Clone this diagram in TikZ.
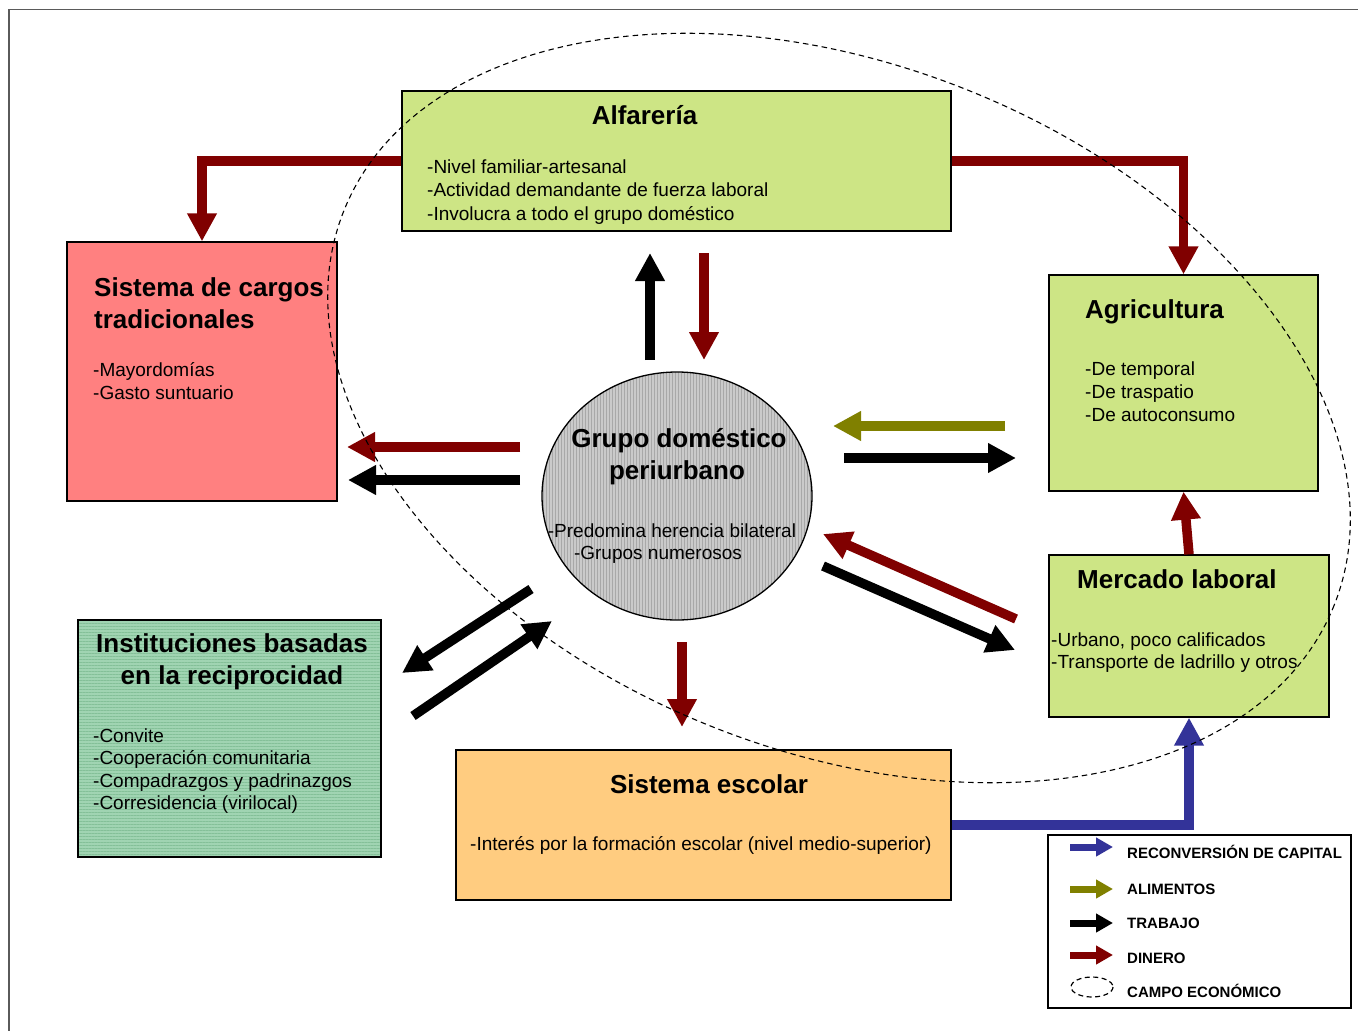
\documentclass[tikz,border=0pt]{standalone}
\usepackage{fontspec}
\setmainfont{Liberation Sans}
\usetikzlibrary{arrows.meta,patterns.meta,shapes.geometric}

\definecolor{dinero}{RGB}{128,0,0}
\definecolor{alimentos}{RGB}{128,128,0}
\definecolor{capital}{RGB}{51,51,153}
\definecolor{verde}{RGB}{205,229,133}
\definecolor{salmon}{RGB}{255,128,128}
\definecolor{naranja}{RGB}{255,204,128}
\definecolor{menta}{RGB}{160,212,178}
\definecolor{mentaraya}{RGB}{132,192,152}
\definecolor{gris}{RGB}{202,202,202}
\definecolor{grisraya}{RGB}{168,168,168}
\definecolor{marco}{RGB}{90,90,90}

\tikzset{
  caja/.style={draw=black, line width=1.3pt, rectangle, inner sep=0pt},
  titulo/.style={font=\fontsize{26}{30}\selectfont\bfseries, inner sep=0pt},
  cuerpo/.style={font=\fontsize{19}{23}\selectfont, inner sep=0pt},
  leyenda/.style={font=\fontsize{15}{18}\selectfont\bfseries, inner sep=0pt},
  flujo/.style={line width=9.5pt, line join=miter,
    -{Triangle[width=28pt,length=28pt]}},
  flujochico/.style={line width=7pt, -{Triangle[width=18pt,length=17pt]}},
  campo/.style={draw=black, dash pattern=on 5.5pt off 4pt, line width=1.1pt}
}

\begin{document}
\begin{tikzpicture}[x=1pt,y=-1pt]
\useasboundingbox (0,0) rectangle (1358,1031);

% page frame
\draw[marco, line width=1.3pt] (9,1031) -- (9,9.5) -- (1358,9.5);

% boxes
\node[caja, fill=verde, minimum width=549pt, minimum height=140pt] (alf) at (676.5,161) {};
\node[caja, fill=salmon, minimum width=270pt, minimum height=259pt] (cargos) at (202,371.5) {};
\node[caja, fill=verde, minimum width=269pt, minimum height=216pt] (agri) at (1183.5,383) {};
\node[caja, fill=verde, minimum width=280pt, minimum height=162pt] (merc) at (1189,636) {};
\node[caja, preaction={fill=menta}, minimum width=303pt, minimum height=237pt,
  pattern={Lines[angle=0,distance=3pt,line width=0.8pt]}, pattern color=mentaraya]
  (inst) at (229.5,738.5) {};
\node[caja, fill=naranja, minimum width=495pt, minimum height=150pt] (esc) at (703.5,825) {};
\node[draw=black, line width=1.3pt, ellipse, inner sep=0pt, minimum width=270pt, minimum height=248pt,
  preaction={fill=gris}, pattern={Lines[angle=90,distance=3pt,line width=0.9pt]}, pattern color=grisraya]
  (grupo) at (677,496) {};

% texts
\node[titulo, anchor=base] (alf-t) at (644.5,124) {Alfarería};
\node[cuerpo, anchor=base west] (alf-1) at (427,173) {-Nivel familiar-artesanal};
\node[cuerpo, anchor=base west] (alf-2) at (427,196.5) {-Actividad demandante de fuerza laboral};
\node[cuerpo, anchor=base west] (alf-3) at (427,220) {-Involucra a todo el grupo doméstico};

\node[titulo, anchor=base west] (cargos-t1) at (94,296) {Sistema de cargos};
\node[titulo, anchor=base west] (cargos-t2) at (94,328) {tradicionales};
\node[cuerpo, anchor=base west] (cargos-1) at (93,376) {-Mayordomías};
\node[cuerpo, anchor=base west] (cargos-2) at (93,399) {-Gasto suntuario};

\node[titulo, anchor=base west] (agri-t) at (1085,318) {Agricultura};
\node[cuerpo, anchor=base west] (agri-1) at (1085,375) {-De temporal};
\node[cuerpo, anchor=base west] (agri-2) at (1085,398) {-De traspatio};
\node[cuerpo, anchor=base west] (agri-3) at (1085,421) {-De autoconsumo};

\node[titulo, anchor=base west] (merc-t) at (1077,588) {Mercado laboral};
\node[cuerpo, anchor=base west] (merc-1) at (1051,646) {-Urbano, poco calificados};
\node[cuerpo, anchor=base west] (merc-2) at (1051,668) {-Transporte de ladrillo y otros};

\node[titulo, anchor=base] (inst-t1) at (232,652) {Instituciones basadas};
\node[titulo, anchor=base] (inst-t2) at (232,684) {en la reciprocidad};
\node[cuerpo, anchor=base west] (inst-1) at (93,742) {-Convite};
\node[cuerpo, anchor=base west] (inst-2) at (93,764.5) {-Cooperación comunitaria};
\node[cuerpo, anchor=base west] (inst-3) at (93,787) {-Compadrazgos y padrinazgos};
\node[cuerpo, anchor=base west] (inst-4) at (93,809.5) {-Corresidencia (virilocal)};

\node[titulo, anchor=base] (esc-t) at (709,793) {Sistema escolar};
\node[cuerpo, anchor=base west] (esc-1) at (470,850) {-Interés por la formación escolar (nivel medio-superior)};

\node[titulo, anchor=base] (grupo-t1) at (679,447) {Grupo doméstico};
\node[titulo, anchor=base] (grupo-t2) at (677,479) {periurbano};
\node[cuerpo, anchor=base] (grupo-1) at (672,537) {-Predomina herencia bilateral};
\node[cuerpo, anchor=base] (grupo-2) at (658,559) {-Grupos numerosos};

% free ends of the straight flows
\coordinate (up-a) at (650,360);   \coordinate (up-b) at (650,253);
\coordinate (dn-a) at (704,253);   \coordinate (dn-b) at (704,360);
\coordinate (lr-a) at (520,447);   \coordinate (lr-b) at (347,447);
\coordinate (lk-a) at (520,480);   \coordinate (lk-b) at (348,480);
\coordinate (ol-a) at (1005,426);  \coordinate (ol-b) at (833,426);
\coordinate (rk-a) at (844,458);   \coordinate (rk-b) at (1016,458);
\coordinate (dr-a) at (1016,619);  \coordinate (dr-b) at (823,534);
\coordinate (dk-a) at (823,566);   \coordinate (dk-b) at (1015,650);
\coordinate (sw-a) at (531,589);   \coordinate (sw-b) at (402,673);
\coordinate (ne-a) at (413,716);   \coordinate (ne-b) at (552,621);
\coordinate (es-a) at (682,642);   \coordinate (es-b) at (682,727);

% flows
\draw[flujo, dinero] (alf.west) -| (cargos.north);
\draw[flujo, dinero] (alf.east) -| (agri.north);
\draw[flujo, black] (up-a) -- (up-b);
\draw[flujo, dinero] (dn-a) -- (dn-b);
\draw[flujo, dinero] (lr-a) -- (lr-b);
\draw[flujo, black] (lk-a) -- (lk-b);
\draw[flujo, alimentos] (ol-a) -- (ol-b);
\draw[flujo, black] (rk-a) -- (rk-b);
\draw[flujo, dinero] (dr-a) -- (dr-b);
\draw[flujo, black] (dk-a) -- (dk-b);
\draw[flujo, black] (sw-a) -- (sw-b);
\draw[flujo, black] (ne-a) -- (ne-b);
\draw[flujo, dinero] (es-a) -- (es-b);
\draw[flujo, dinero] (merc.north) -- (agri.south);
\draw[flujo, capital] (esc.east) -| (merc.south);

% economic field
\draw[campo, rotate around={-21.7:(839,408)}] (839,408) ellipse [x radius=533, y radius=343];

% legend
\node[draw=black, line width=1.3pt, rectangle, fill=white, minimum width=303pt, minimum height=173pt] (ley) at (1199.5,921.5) {};
\coordinate (l1-a) at (1070,847); \coordinate (l1-b) at (1113,847);
\coordinate (l2-a) at (1070,889); \coordinate (l2-b) at (1113,889);
\coordinate (l3-a) at (1070,923); \coordinate (l3-b) at (1113,923);
\coordinate (l4-a) at (1070,955); \coordinate (l4-b) at (1113,955);
\draw[flujochico, capital] (l1-a) -- (l1-b);
\draw[flujochico, alimentos] (l2-a) -- (l2-b);
\draw[flujochico, black] (l3-a) -- (l3-b);
\draw[flujochico, dinero] (l4-a) -- (l4-b);
\draw[draw=black, dash pattern=on 5pt off 3.5pt, line width=1.2pt] (1092,987) ellipse [x radius=21, y radius=10];
\node[leyenda, anchor=base west] (ley-1) at (1127,858) {RECONVERSIÓN DE CAPITAL};
\node[leyenda, anchor=base west] (ley-2) at (1127,894) {ALIMENTOS};
\node[leyenda, anchor=base west] (ley-3) at (1127,928) {TRABAJO};
\node[leyenda, anchor=base west] (ley-4) at (1127,963) {DINERO};
\node[leyenda, anchor=base west] (ley-5) at (1127,997) {CAMPO ECONÓMICO};
\end{tikzpicture}
\end{document}
